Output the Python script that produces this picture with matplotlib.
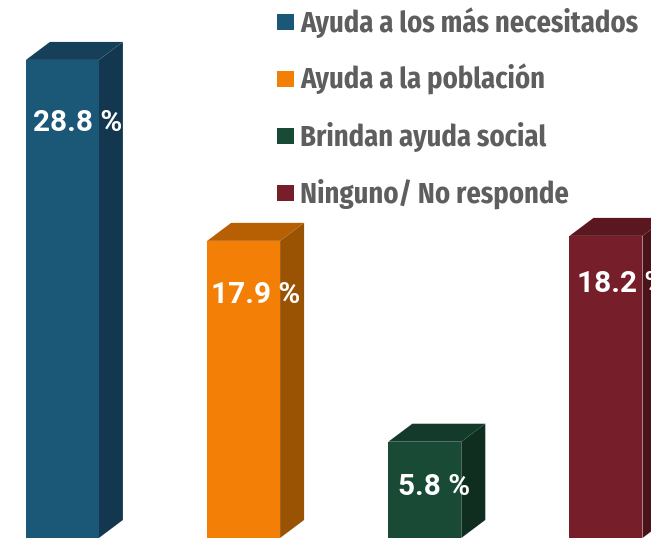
#!/usr/bin/env python3
"""Recreate the 3D-style bar chart of survey answers."""

import matplotlib
matplotlib.use("Agg")
import matplotlib.pyplot as plt
from matplotlib.patches import Rectangle

categories = ["Ayuda a los más necesitados", "Ayuda a la población",
              "Brindan ayuda social", "Ninguno/ No responde"]
values = [28.8, 17.9, 5.8, 18.2]
value_labels = ["28.8 %", "17.9 %", "5.8 %", "18.2 %"]

front_colors = ["#1B5777", "#F47F06", "#184A36", "#761E2A"]
top_colors = ["#163F5A", "#B76003", "#143A2B", "#5A1720"]
side_colors = ["#12374F", "#9A5203", "#0F2E20", "#4A1219"]

W, H = 651, 538
PX_PER_UNIT = 16.6
BAR_STEP = 181.2

fig = plt.figure(figsize=(W / 100, H / 100), dpi=100)
ax = fig.add_axes([0, 0, 1, 1])
ax.set_xlim(-62.4 / BAR_STEP, (W - 62.4) / BAR_STEP)
ax.set_ylim(0, H / PX_PER_UNIT)
ax.axis("off")

bar_w = 73 / BAR_STEP
depth_x = 24 / BAR_STEP
depth_y = 18 / PX_PER_UNIT

# label placement relative to bar centre / bar top, in pixels
label_dx = [15, 12, 9, 16]
label_drop = [63, 54, 45, 48]

for i, v in enumerate(values):
    left = i - bar_w / 2
    right = i + bar_w / 2
    ax.bar(i, v, width=bar_w, color=front_colors[i], linewidth=0, zorder=3)
    # top face
    ax.fill([left, right, right + depth_x, left + depth_x],
            [v, v, v + depth_y, v + depth_y],
            color=top_colors[i], linewidth=0, zorder=2)
    # side face
    ax.fill([right, right + depth_x, right + depth_x, right],
            [0, depth_y, v + depth_y, v],
            color=side_colors[i], linewidth=0, zorder=2)
    ax.text(i + label_dx[i] / BAR_STEP, v - label_drop[i] / PX_PER_UNIT,
            value_labels[i], color="white", fontsize=21.4, fontweight="bold",
            family="Roboto", ha="center", va="center", zorder=5, clip_on=True)

# legend drawn in pixel coordinates
legend_y = [22, 79, 136, 193]
for name, color, y in zip(categories, front_colors, legend_y):
    fig.add_artist(Rectangle((277 / W, 1 - (y + 8) / H), 17 / W, 16 / H,
                             transform=fig.transFigure, color=color, linewidth=0))
    fig.text(300 / W, 1 - (y + 10) / H, name, color="#5E5E5E", fontsize=20.5,
             fontweight="bold", family=["Fira Sans Condensed", "DejaVu Sans"],
             ha="left", va="baseline")

fig.savefig("out.png", dpi=100)
